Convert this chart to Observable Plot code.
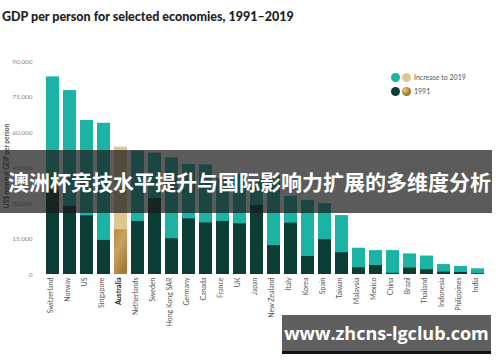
<!DOCTYPE html>
<html><head><meta charset="utf-8">
<script src="https://cdn.jsdelivr.net/npm/d3@7"></script>
<script src="https://cdn.jsdelivr.net/npm/@observablehq/plot@0.6"></script>
<style>
body{margin:0;background:#fff;}
#wrap{position:relative;width:500px;height:362px;overflow:hidden;font-family:Lato,"Open Sans",sans-serif;}
#chart{position:absolute;left:0;top:0;}
#title{position:absolute;left:2px;top:9px;font-weight:900;font-size:12.5px;color:#222;white-space:nowrap;}
#ylab{position:absolute;left:6px;top:166px;transform:translate(-50%,-50%) rotate(-90deg);font-size:6.5px;font-weight:bold;color:#555;white-space:nowrap;}
.leg{position:absolute;font-size:7px;color:#555;white-space:nowrap;}
.dot{position:absolute;width:9px;height:9px;border-radius:50%;}
#banner{position:absolute;left:0;top:150px;width:492px;height:63px;background:rgba(28,28,28,0.72);color:#fff;font-family:"Noto Sans CJK SC";font-weight:bold;font-size:21px;line-height:63px;padding-left:8px;box-sizing:border-box;white-space:nowrap;overflow:visible;}
#wm{position:absolute;left:282px;top:315px;width:209px;height:36px;background:#5f5f5f;border-bottom:3px solid #111;color:#fff;font-family:"Open Sans";font-weight:bold;font-size:18px;line-height:36px;text-align:center;white-space:nowrap;}
</style></head>
<body>
<div id="wrap">
  <div id="chart"></div>
  <div id="title">GDP per person for selected economies, 1991–2019</div>
  <div id="ylab">US$ nominal GDP per person</div>
  <div class="dot" style="left:391px;top:73px;background:#1ab3a4"></div>
  <div class="dot" style="left:402px;top:73px;background:#e0c790"></div>
  <div class="leg" style="left:414px;top:73px">Increase to 2019</div>
  <div class="dot" style="left:391px;top:87px;background:#0b3d35"></div>
  <div class="dot" style="left:402px;top:87px;background:radial-gradient(circle at 35% 35%,#e8c77e,#a9762e 60%,#6e4a1c)"></div>
  <div class="leg" style="left:414px;top:87px">1991</div>
  <div id="banner">澳洲杯竞技水平提升与国际影响力扩展的多维度分析</div>
  <div id="wm">www.zhcns-lgclub.com</div>
</div>
<script>
const countries = ["Switzerland","Norway","US","Singapore","Australia","Netherlands","Sweden","Hong Kong SAR","Germany","Canada","France","UK","Japan","New Zealand","Italy","Korea","Spain","Taiwan","Malaysia","Mexico","China","Brazil","Thailand","Indonesia","Philippines","India"];
const gdp2019 = [83500,77700,65100,63900,53800,52100,51300,49300,46500,46300,40500,42300,40300,42000,33000,31300,29900,24900,11100,10100,10100,8700,7800,4200,3400,2400];
const gdp1991 = [35500,28800,24800,14400,18900,22400,32100,15100,23500,21800,22400,21400,29100,12200,21700,7600,14700,9200,2800,3800,500,2700,2000,1000,850,300];
const yTicks = [0,15000,30000,45000,60000,75000,90000];
const highlight = "Australia";

const data = countries.map((c,i)=>({country:c, v2019:gdp2019[i], v1991:gdp1991[i]}));
const others = data.filter(d=>d.country!==highlight);
const aus = data.filter(d=>d.country===highlight);

const plot = Plot.plot({
  width:500, height:362,
  marginTop:61, marginBottom:88, marginLeft:37, marginRight:8,
  style:{fontFamily:"Lato, 'Open Sans', sans-serif", background:"transparent"},
  x:{domain:countries, paddingInner:0.26, paddingOuter:0.13, axis:null},
  y:{domain:[0,90000], axis:null},
  marks:[
    Plot.barY(others,{x:"country", y:"v2019", fill:"#1ab3a4"}),
    Plot.barY(others,{x:"country", y:"v1991", fill:"#0b3d35"}),
    Plot.barY(aus,{x:"country", y:"v2019", fill:"#e0c790"}),
    Plot.barY(aus,{x:"country", y:"v1991", fill:"url(#goldGrad)"}),
    Plot.axisY(yTicks,{tickSize:0, tickPadding:5, tickFormat:d3.format(","), label:null, fill:"#8a8a8a", fontSize:6.5}),
    Plot.text(others,{x:"country", frameAnchor:"bottom", dy:3, text:"country", rotate:-90, textAnchor:"end", fontSize:7, fill:"#555"}),
    Plot.text(aus,{x:"country", frameAnchor:"bottom", dy:3, text:"country", rotate:-90, textAnchor:"end", fontSize:7, fontWeight:"bold", fill:"#222"})
  ]
});
const svg = d3.select(plot);
const grad = svg.insert("defs",":first-child").append("linearGradient")
  .attr("id","goldGrad").attr("x1","0").attr("y1","0").attr("x2","0.6").attr("y2","1");
grad.append("stop").attr("offset","0").attr("stop-color","#b8893f");
grad.append("stop").attr("offset","0.45").attr("stop-color","#c9a35f");
grad.append("stop").attr("offset","1").attr("stop-color","#a67a36");
document.getElementById("chart").appendChild(plot);
</script>
</body></html>
